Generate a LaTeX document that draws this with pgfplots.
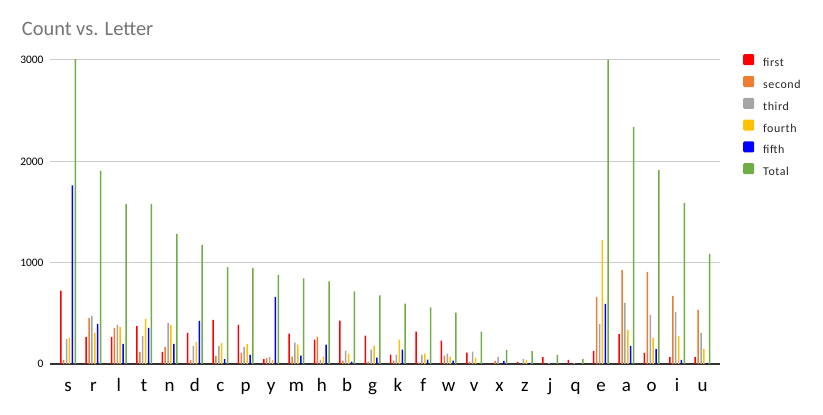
\documentclass[border=0pt]{standalone}
\usepackage{fontspec}
\setmainfont{Carlito}
\newfontfamily\legendfont[LetterSpace=5]{Carlito}
\usepackage{pgfplots}
\usepackage{pgfplotstable}
\pgfplotsset{compat=1.18}

\definecolor{cfirst}{HTML}{FF0000}
\definecolor{csecond}{HTML}{ED7D31}
\definecolor{cthird}{HTML}{A5A5A5}
\definecolor{cfourth}{HTML}{FFC000}
\definecolor{cfifth}{HTML}{0000FF}
\definecolor{ctotal}{HTML}{70AD47}
\definecolor{titlegray}{HTML}{757575}
\definecolor{gridgray}{HTML}{CCCCCC}
\definecolor{axisdark}{HTML}{333333}

% idx letter first second third fourth fifth total
\pgfplotstableread{
idx first second third fourth fifth total
0  724  40  247  260 1762 3033
1  267 454  474  306  395 1906
2  267 356  385  365  198 1581
3  375 119  277  445  356 1581
4  119 168  405  385  198 1284
5  306  40  178  217  425 1175
6  435  79  178  207   49  955
7  385 109  168  198   89  948
8   49  59   69   40  662  879
9  300  73  211  191   83  845
10 241 271   43   73  191  815
11 429  33  132  102   23  716
12 281  23  142  182   63  677
13  92  33   92  241  142  597
14 320  13   92  102   43  558
15 231  83  102   73   33  508
16 112  23  122   63    0  320
17   0  30   70    0   30  138
18  20   0   49   40   10  128
19  69   0   10    0    0   89
20  40   0   10    0    0   49
21 128 662  395 1225  593 3003
22 296 929  603  336  178 2338
23 109 909  484  257  148 1916
24  69 672  514  277   40 1590
25  69 533  306  148   10 1087
}\letters

\begin{document}
\begin{tikzpicture}
\useasboundingbox (0,0) rectangle (823bp,415bp);
\node[anchor=base west, inner sep=0pt, text=titlegray, font=\fontsize{20.5}{21}\selectfont]
  at (21.7bp,379.3bp) {Count vs. Letter};
\begin{axis}[
  at={(50bp,51bp)}, anchor=south west,
  scale only axis,
  width=670bp, height=304bp,
  ybar=1.4bp,
  bar width=1.5bp,
  xmin=-0.71, xmax=25.69,
  ymin=0, ymax=3000,
  axis x line=bottom,
  axis y line=left,
  x axis line style={axisdark, line width=1.3bp, -},
  y axis line style={draw=none},
  xtick={0,...,25},
  xticklabels={s,r,l,t,n,d,c,p,y,m,h,b,g,k,f,w,v,x,z,j,q,e,a,o,i,u},
  ytick={0,1000,2000,3000},
  major tick length=0pt,
  ymajorgrids=true,
  grid style={gridgray, line width=1bp},
  scaled y ticks=false,
  /pgf/number format/1000 sep={},
  /pgf/number format/assume math mode=true,
  xticklabel style={anchor=base, inner sep=0pt, yshift=-27bp,
    font=\fontsize{19}{19}\selectfont},
  yticklabel style={anchor=east, inner sep=0pt, xshift=-6.3bp,
    font=\fontsize{11.5}{12}\selectfont},
  legend style={at={(1,1)}, anchor=north west, xshift=23bp, yshift=6bp,
    draw=none, fill=none, inner sep=0pt, row sep=6.8bp,
    font=\legendfont\fontsize{12}{12}\selectfont, text=black!85,
    nodes={inner sep=0pt, text height=8.5bp, text depth=2.5bp},
    /tikz/every odd column/.append style={column sep=9bp}},
  legend cell align=left,
  legend image code/.code={\fill[#1, rounded corners=1.2bp] (0bp,-1.5bp) rectangle (11bp,9.5bp);},
]
\addplot[fill=cfirst, draw=none] table[x=idx, y=first] {\letters};
\addlegendentry{first}
\addplot[fill=csecond, draw=none] table[x=idx, y=second] {\letters};
\addlegendentry{second}
\addplot[fill=cthird, draw=none] table[x=idx, y=third] {\letters};
\addlegendentry{third}
\addplot[fill=cfourth, draw=none] table[x=idx, y=fourth] {\letters};
\addlegendentry{fourth}
\addplot[fill=cfifth, draw=none] table[x=idx, y=fifth] {\letters};
\addlegendentry{fifth}
\addplot[fill=ctotal, draw=none] table[x=idx, y=total] {\letters};
\addlegendentry{Total}
\end{axis}
\end{tikzpicture}
\end{document}
